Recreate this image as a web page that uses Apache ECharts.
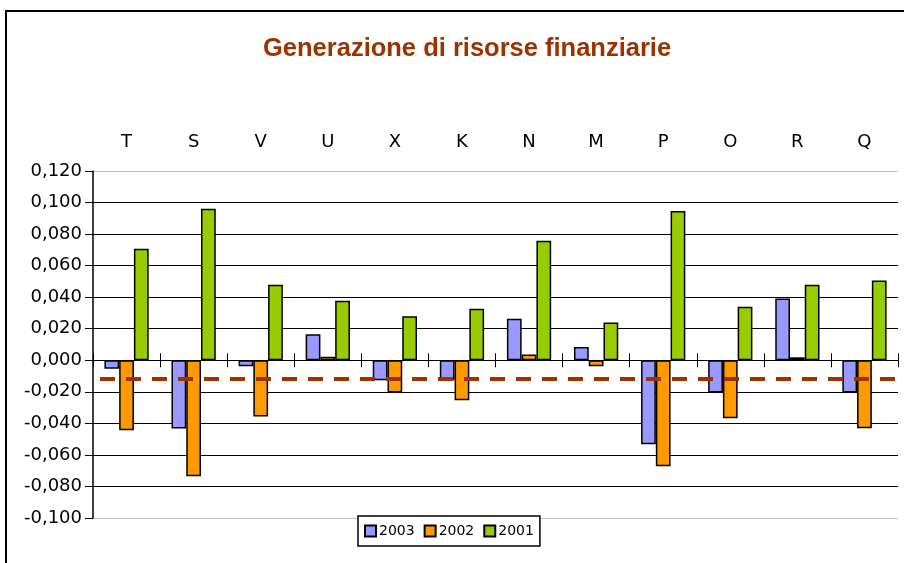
<!DOCTYPE html>
<html><head><meta charset="utf-8">
<script src="https://cdn.jsdelivr.net/npm/echarts@6/dist/echarts.min.js"></script>
<style>html,body{margin:0;padding:0;background:#fff}#c{width:904px;height:563px}</style>
</head><body><div id="c"></div>
<script>
const categories = ['T','S','V','U','X','K','N','M','P','O','R','Q'];
const s2003 = [-0.0053,-0.0433,-0.0038,0.0165,-0.0127,-0.0127,0.0264,0.0084,-0.0532,-0.0205,0.0391,-0.0205];
const s2002 = [-0.0443,-0.0735,-0.0357,0.0023,-0.0205,-0.0253,0.0036,-0.0038,-0.0672,-0.0367,0.0019,-0.0431];
const s2001 = [0.0707,0.0961,0.0479,0.0378,0.0279,0.0327,0.0758,0.0239,0.0946,0.0340,0.0479,0.0505];
const avgLine = -0.0116;
const seriesNames = ['2003','2002','2001'];
const colors = ['#9999FF','#FF9900','#99CC00'];
const titleText = 'Generazione di risorse finanziarie';

const FONT = 'DejaVu Sans';
const chart = echarts.init(document.getElementById('c'), null, {renderer:'canvas'});
const gridLineColors = ['#c0c0c0','#000','#000','#000','#000','#000','#000','#000','#000','#000','#000','#c0c0c0'];
const datas = [s2003, s2002, s2001];
chart.setOption({
  animation: false,
  backgroundColor: '#fff',
  graphic: [{type:'rect', shape:{x:6,y:11,width:1000,height:1000}, style:{fill:'none', stroke:'#000', lineWidth:2}, z:-1}],
  title: {text: titleText, left: 258, top: 31,
    textStyle:{fontFamily:'Liberation Sans', fontWeight:'bold', fontSize:25.5, color:'#993300'}},
  legend: {data: seriesNames, left: 358, top: 516, orient:'horizontal', icon:'rect',
    itemWidth: 11, itemHeight: 11, itemGap: 9, padding:[8,6,8,6], borderColor:'#000', borderWidth:1.5,
    backgroundColor:'#fff',
    textStyle:{fontFamily:FONT, fontSize:14, color:'#000', padding:[0,0,0,-2]}},
  grid: {left: 93, right: 6, top: 171, bottom: 45, containLabel:false},
  xAxis: [
    {type:'category', data: categories, position:'top', axisLine:{show:false, onZero:false}, axisTick:{show:false},
     axisLabel:{fontFamily:FONT, fontSize:18, color:'#000', margin:20}, splitLine:{show:false}},
    {type:'category', data: categories, position:'bottom', axisLine:{show:true, onZero:true, lineStyle:{color:'#000', width:1}},
     axisTick:{show:true, length:7, lineStyle:{color:'#000'}}, axisLabel:{show:false}},
    {type:'category', data: categories, position:'bottom', axisLine:{show:false, onZero:true, onZeroAxisIndex:1},
     axisTick:{show:true, inside:true, length:7, lineStyle:{color:'#000'}}, axisLabel:{show:false}}
  ],
  yAxis: [
    {type:'value', min:-0.1, max:0.12, interval:0.02,
     axisLine:{show:true, lineStyle:{color:'#000', width:1.5}},
     axisTick:{show:true, length:8, lineStyle:{color:'#000'}},
     axisLabel:{fontFamily:FONT, fontSize:18, color:'#000', margin:11,
       formatter: v => (Math.round(v*1000)/1000).toFixed(3).replace('.',',').replace('-0,000','0,000')},
     splitLine:{show:true, lineStyle:{color:gridLineColors, width:1.2}}},
    {type:'value', min:-0.1, max:0.12, interval:0.02, show:false, splitLine:{show:false}}
  ],
  series: datas.map((d,i)=>({
    name: seriesNames[i], type:'bar', data:d, xAxisIndex:1, yAxisIndex:0,
    barGap:'0%', barCategoryGap:'34%',
    itemStyle:{color:colors[i], borderColor:'#000', borderWidth:1.5},
    markLine: i===0 ? {symbol:'none', silent:true, precision:6, label:{show:false},
      lineStyle:{color:'#993300', width:4, type:[15,11], dashOffset:19}, data:[{yAxis:avgLine}]} : undefined,
    z: 2
  }))
});
</script></body></html>
